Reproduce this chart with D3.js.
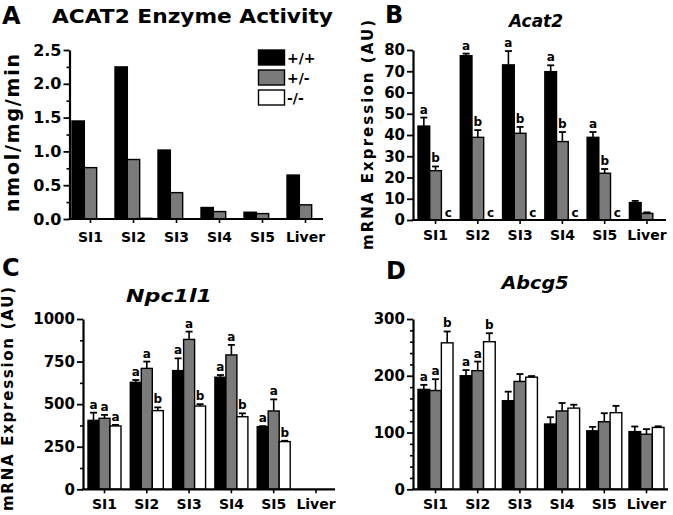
<!DOCTYPE html>
<html><head><meta charset="utf-8">
<script src="https://cdn.jsdelivr.net/npm/d3@7"></script>
<style>body{margin:0;background:#fff}svg text{font-family:"DejaVu Sans",sans-serif;font-weight:bold}</style>
</head><body><svg id="chart" width="673" height="515"></svg>
<script>
// ---------- data ----------
const categories = ["SI1","SI2","SI3","SI4","SI5","Liver"];
const genotypes = ["+/+","+/-","-/-"];

// Panel A: ACAT2 enzyme activity (nmol/mg/min)
const activityWT  = [1.45, 2.25, 1.02, 0.17, 0.10, 0.65];
const activityHet = [0.76, 0.88, 0.39, 0.11, 0.08, 0.21];
const activityKO  = [0, 0.01, 0, 0, 0, 0];

// Panel B: Acat2 mRNA
const acat2WT     = [44.2, 77.3, 73.0, 69.8, 38.9, 8.2];
const acat2WTsem  = [4.0, 1.0, 6.5, 3.0, 2.5, 0.8];
const acat2Het    = [23.2, 38.9, 40.8, 36.9, 22.0, 3.1];
const acat2HetSem = [2.0, 3.4, 3.0, 4.5, 2.0, 0.5];
const acat2KO     = [0, 0, 0, 0, 0, 0];
const acat2KOsem  = [0, 0, 0, 0, 0, 0];
const acat2LettersWT  = ["a","a","a","a","a",""];
const acat2LettersHet = ["b","b","b","b","b",""];
const acat2LettersKO  = ["c","c","c","c","c",""];

// Panel C: Npc1l1 mRNA
const npcWT     = [405, 628, 697, 658, 368, 0];
const npcWTsem  = [45, 14, 72, 13, 3, 0];
const npcHet    = [417, 710, 880, 789, 460, 0];
const npcHetSem = [20, 40, 46, 59, 68, 0];
const npcKO     = [372, 462, 489, 426, 280, 0];
const npcKOsem  = [6, 19, 11, 20, 5, 0];
const npcLettersWT  = ["a","a","a","a","a",""];
const npcLettersHet = ["a","a","a","a","a",""];
const npcLettersKO  = ["a","b","b","b","b",""];

// Panel D: Abcg5 mRNA
const abcgWT     = [176, 200, 156, 115, 103, 101.6];
const abcgWTsem  = [8, 10, 16, 12, 7, 9];
const abcgHet    = [174, 209, 190, 138, 119, 97];
const abcgHetSem = [20, 16, 13, 14, 15, 9];
const abcgKO     = [258, 260, 197.5, 143, 135, 109];
const abcgKOsem  = [20, 15, 2, 6, 12, 2];
const abcgLettersWT  = ["a","a","","","",""];
const abcgLettersHet = ["a","a","","","",""];
const abcgLettersKO  = ["b","b","","","",""];

const fills = ["#000000", "#7a7a7a", "#ffffff"];

// ---------- drawing ----------
const svg = d3.select("#chart");

function drawPanel(cfg) {
  const g = svg.append("g");
  const x = d3.scaleBand().domain(categories).range(cfg.xRange).paddingInner(cfg.padInner).paddingOuter(0);
  const y = d3.scaleLinear().domain(cfg.yDomain).range(cfg.yRange);
  const bw = x.bandwidth() / 3;
  const y0 = y(0);

  cfg.series.forEach((s, i) => {
    const data = categories.map((c, j) => ({c, v: s.values[j], e: s.sem ? s.sem[j] : 0, l: s.letters ? s.letters[j] : ""}));
    g.selectAll(null).data(data.filter(d => d.v > 0)).enter().append("rect")
      .attr("x", d => x(d.c) + i * bw)
      .attr("y", d => y(d.v))
      .attr("width", bw)
      .attr("height", d => y0 - y(d.v))
      .attr("fill", fills[i]).attr("stroke", "#000").attr("stroke-width", 1.4);
    const eb = data.filter(d => d.e > 0);
    g.selectAll(null).data(eb).enter().append("line")
      .attr("x1", d => x(d.c) + (i + 0.5) * bw).attr("x2", d => x(d.c) + (i + 0.5) * bw)
      .attr("y1", d => y(d.v)).attr("y2", d => y(d.v + d.e))
      .attr("stroke", "#000").attr("stroke-width", 1.6);
    g.selectAll(null).data(eb).enter().append("line")
      .attr("x1", d => x(d.c) + (i + 0.5) * bw - 3.5).attr("x2", d => x(d.c) + (i + 0.5) * bw + 3.5)
      .attr("y1", d => y(d.v + d.e)).attr("y2", d => y(d.v + d.e))
      .attr("stroke", "#000").attr("stroke-width", 1.8);
    g.selectAll(null).data(data.filter(d => d.l)).enter().append("text")
      .attr("x", d => x(d.c) + (i + 0.5) * bw + (d.v > 0 ? 0 : 1))
      .attr("y", d => d.v > 0 ? y(d.v + d.e) - 4 : y0 - 3)
      .attr("text-anchor", "middle").attr("font-size", 12).text(d => d.l);
  });

  // y axis
  const yAxis = d3.axisLeft(y).tickValues(cfg.major).tickFormat(cfg.fmt).tickSize(6).tickSizeOuter(0).tickPadding(2);
  const ya = g.append("g").attr("transform", `translate(${cfg.axisX},0)`).call(yAxis);
  ya.selectAll("text").attr("font-size", cfg.tickFont).attr("fill", "#000");
  ya.select(".domain").attr("stroke-width", 2.2);
  ya.selectAll(".tick line").attr("stroke-width", 1.8);
  if (cfg.minor.length) {
    const ym = g.append("g").attr("transform", `translate(${cfg.axisX},0)`)
      .call(d3.axisLeft(y).tickValues(cfg.minor).tickFormat("").tickSize(3).tickSizeOuter(0));
    ym.select(".domain").remove();
    ym.selectAll(".tick line").attr("stroke-width", 1.6);
  }

  // x axis
  const xAxis = d3.axisBottom(x).tickSize(4).tickPadding(cfg.xPad).tickSizeOuter(0);
  const xa = g.append("g").attr("transform", `translate(0,${y0})`).call(xAxis);
  xa.select(".domain").remove();
  xa.selectAll(".tick line").attr("stroke-width", 1.6);
  xa.selectAll("text").attr("font-size", 14).attr("fill", "#000");
  g.append("line").attr("x1", cfg.axisX - 1).attr("x2", cfg.xEnd).attr("y1", y0).attr("y2", y0)
    .attr("stroke", "#000").attr("stroke-width", 2.2);

  // title
  g.append("text").attr("x", cfg.title.x).attr("y", cfg.title.y)
    .attr("text-anchor", cfg.title.anchor || "middle")
    .attr("font-size", cfg.title.size)
    .attr("font-style", cfg.title.italic ? "italic" : "normal")
    .attr("textLength", cfg.title.len).attr("lengthAdjust", "spacingAndGlyphs")
    .text(cfg.title.text);
  // panel letter
  g.append("text").attr("x", cfg.letter.x).attr("y", cfg.letter.y).attr("font-size", 24).text(cfg.letter.text);
  // y label
  if (cfg.ylabel) {
    g.append("text").attr("transform", `translate(${cfg.ylabel.x},${cfg.ylabel.y}) rotate(-90)`)
      .attr("text-anchor", "middle").attr("font-size", cfg.ylabel.size)
      .attr("textLength", cfg.ylabel.len).attr("lengthAdjust", "spacing")
      .text(cfg.ylabel.text);
  }
  return {x, y};
}

// Panel A
drawPanel({
  xRange: [72, 324], padInner: 0.14, axisX: 69.5, xEnd: 323,
  yDomain: [0, 2.5], yRange: [219, 50],
  major: [0, 0.5, 1.0, 1.5, 2.0, 2.5], minor: [0.25, 0.75, 1.25, 1.75, 2.25],
  fmt: d3.format(".1f"), tickFont: 16, xPad: 9,
  series: [{values: activityWT}, {values: activityHet}, {values: activityKO}],
  title: {text: "ACAT2 Enzyme Activity", x: 52, y: 23, anchor: "start", size: 20, len: 281},
  letter: {text: "A", x: 2, y: 24},
  ylabel: {text: "nmol/mg/min", x: 19, y: 133, size: 19, len: 158}
});

// legend for A
const legend = svg.append("g");
genotypes.forEach((gt, i) => {
  legend.append("rect").attr("x", 258.5).attr("y", 50 + i * 20).attr("width", 26).attr("height", 15)
    .attr("fill", fills[i]).attr("stroke", "#000").attr("stroke-width", 1.4);
  legend.append("text").attr("x", 287).attr("y", 63 + i * 20).attr("font-size", 14).text(gt);
});

// Panel B
drawPanel({
  xRange: [418, 664.5], padInner: 0.17, axisX: 413, xEnd: 666,
  yDomain: [0, 80], yRange: [220, 50],
  major: d3.range(0, 81, 10), minor: [],
  fmt: d3.format("d"), tickFont: 15, xPad: 6,
  series: [
    {values: acat2WT, sem: acat2WTsem, letters: acat2LettersWT},
    {values: acat2Het, sem: acat2HetSem, letters: acat2LettersHet},
    {values: acat2KO, sem: acat2KOsem, letters: acat2LettersKO}
  ],
  title: {text: "Acat2", x: 536, y: 27, size: 17, italic: true, len: 54},
  letter: {text: "B", x: 385, y: 23},
  ylabel: {text: "mRNA Expression (AU)", x: 373, y: 135, size: 15, len: 230}
});

// Panel C
drawPanel({
  xRange: [88, 332.5], padInner: 0.22, axisX: 83, xEnd: 335,
  yDomain: [0, 1000], yRange: [489.3, 319],
  major: [0, 250, 500, 750, 1000], minor: [125, 375, 625, 875],
  fmt: d3.format("d"), tickFont: 15, xPad: 6,
  series: [
    {values: npcWT, sem: npcWTsem, letters: npcLettersWT},
    {values: npcHet, sem: npcHetSem, letters: npcLettersHet},
    {values: npcKO, sem: npcKOsem, letters: npcLettersKO}
  ],
  title: {text: "Npc1l1", x: 169, y: 302, size: 18, italic: true, len: 86},
  letter: {text: "C", x: 2, y: 276},
  ylabel: {text: "mRNA Expression (AU)", x: 13, y: 399, size: 15, len: 224}
});

// Panel D
drawPanel({
  xRange: [418, 664], padInner: 0.17, axisX: 413, xEnd: 668,
  yDomain: [0, 300], yRange: [489.3, 319],
  major: [0, 100, 200, 300], minor: d3.range(20, 300, 20).filter(v => v % 100 !== 0),
  fmt: d3.format("d"), tickFont: 15, xPad: 6,
  series: [
    {values: abcgWT, sem: abcgWTsem, letters: abcgLettersWT},
    {values: abcgHet, sem: abcgHetSem, letters: abcgLettersHet},
    {values: abcgKO, sem: abcgKOsem, letters: abcgLettersKO}
  ],
  title: {text: "Abcg5", x: 535, y: 289, size: 18, italic: true, len: 67},
  letter: {text: "D", x: 386, y: 279}
});
</script></body></html>
